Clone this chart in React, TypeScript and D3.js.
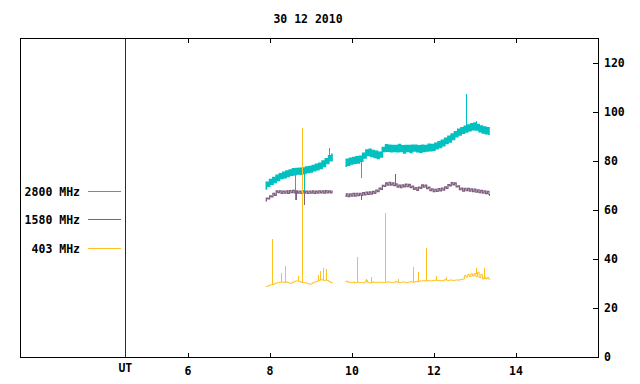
import React from "react";
import * as d3 from "d3";

// ---- data ----
const TITLE = "30 12 2010";
const X_TICKS = [6, 8, 10, 12, 14];
const Y_TICKS = [0, 20, 40, 60, 80, 100, 120];
const UT_POS = 4.47;
const STEP = 0.04;
const SEG1_START = 7.89;
const SEG2_START = 9.84;

const cyan1 = [68.5, 71.2, 69.6, 72.3, 70.4, 73.1, 71.2, 74.0, 72.0, 74.6, 72.8, 75.3, 73.1, 75.8, 73.6, 76.2, 74.1, 76.7, 74.3, 76.8, 74.6, 76.9, 74.5, 77.0, 74.8, 77.4, 75.2, 77.6, 75.4, 78.0, 75.9, 78.5, 76.3, 78.9, 76.9, 79.8, 77.7, 80.8, 78.9, 82.0, 80.0, 82.6];
const cyan2 = [77.8, 80.5, 78.2, 81.0, 78.7, 81.3, 79.0, 81.6, 79.1, 81.8, 79.8, 83.0, 81.1, 84.3, 82.2, 84.6, 81.8, 84.1, 81.3, 83.8, 80.9, 83.4, 81.5, 85.3, 83.8, 86.5, 83.9, 86.3, 83.7, 86.2, 83.8, 86.1, 83.7, 86.6, 83.8, 86.0, 83.2, 86.1, 83.8, 86.2, 83.4, 86.3, 84.0, 86.3, 83.7, 86.0, 83.5, 86.3, 83.8, 86.2, 84.0, 86.7, 84.1, 86.6, 84.3, 87.1, 84.9, 87.7, 85.4, 88.3, 86.1, 89.1, 87.0, 89.9, 87.7, 90.8, 88.7, 91.8, 89.8, 92.8, 90.5, 93.4, 91.2, 94.0, 91.7, 94.5, 92.2, 95.0, 92.6, 95.3, 92.5, 94.7, 91.8, 94.1, 91.3, 93.7, 91.0, 93.4, 90.8];
const purple1 = [63.6, 64.7, 64.4, 65.7, 65.3, 66.7, 65.9, 67.7, 67.0, 67.7, 66.7, 67.6, 66.8, 67.7, 66.7, 67.8, 67.0, 67.9, 66.9, 67.7, 66.8, 67.6, 66.7, 67.7, 66.8, 67.6, 66.7, 67.6, 66.8, 67.7, 66.7, 67.6, 66.8, 67.7, 66.9, 67.7, 66.8, 67.8, 66.9, 67.7, 66.9, 67.6];
const purple2 = [65.5, 66.5, 65.4, 66.5, 65.6, 66.7, 65.6, 66.7, 65.8, 66.7, 65.9, 67.0, 66.1, 67.2, 66.3, 67.3, 66.4, 67.5, 66.7, 68.0, 67.4, 68.8, 68.3, 69.9, 69.5, 70.9, 70.1, 71.2, 70.1, 71.0, 69.8, 70.5, 69.2, 70.0, 69.0, 70.1, 69.3, 70.4, 69.4, 70.3, 69.0, 69.6, 68.3, 69.0, 67.9, 69.2, 68.7, 70.1, 69.2, 70.0, 68.6, 69.2, 67.8, 68.5, 67.4, 68.3, 67.5, 68.6, 67.7, 68.8, 68.0, 69.3, 68.7, 70.2, 69.7, 71.1, 70.2, 70.9, 69.3, 69.7, 68.2, 68.8, 67.6, 68.7, 67.8, 68.7, 67.6, 68.5, 67.4, 68.4, 67.2, 68.1, 67.0, 67.9, 66.8, 67.7, 66.6, 67.5, 66.3];
const yellow1 = [28.7, 28.8, 29.0, 29.4, 29.5, 29.6, 30.0, 30.2, 30.3, 30.4, 30.6, 30.5, 30.4, 30.6, 30.3, 30.0, 30.2, 30.5, 30.9, 31.0, 31.0, 30.8, 30.4, 30.3, 30.3, 30.2, 29.9, 29.7, 29.8, 30.2, 30.5, 30.7, 31.0, 31.3, 31.5, 31.4, 31.2, 31.4, 31.2, 30.8, 30.4, 30.2];
const yellow2 = [30.6, 30.9, 30.4, 30.5, 30.3, 30.6, 30.2, 30.4, 30.5, 30.3, 30.4, 30.2, 30.5, 31.2, 30.4, 30.2, 30.3, 30.6, 30.4, 30.3, 30.5, 30.4, 30.5, 30.3, 30.4, 30.4, 30.6, 30.5, 30.4, 30.3, 30.5, 30.8, 30.5, 30.3, 30.4, 30.6, 30.5, 30.3, 30.4, 30.5, 30.7, 30.6, 30.5, 30.8, 30.6, 30.9, 31.0, 31.0, 31.1, 31.0, 31.2, 31.1, 31.0, 31.1, 31.2, 31.3, 31.1, 31.2, 31.0, 31.1, 31.2, 31.6, 31.3, 31.2, 31.4, 31.3, 31.2, 31.3, 31.4, 31.3, 31.5, 31.6, 31.8, 33.2, 32.6, 33.6, 32.8, 33.9, 33.0, 34.0, 32.8, 34.5, 32.4, 33.6, 31.8, 32.6, 31.8, 32.4, 31.6];

// spikes: [hour, peak value]
const cyanSpikes: [number, number][] = [[8.62, 64], [8.84, 62], [9.44, 85], [10.22, 73], [12.79, 107], [13.03, 96]];
const purpleSpikes: [number, number][] = [[8.64, 64], [8.84, 62], [10.22, 63.8], [11.05, 74.7], [13.35, 65.5]];
const yellowSpikes: [number, number][] = [[8.05, 48.2], [8.27, 34.3], [8.36, 37.1], [8.68, 33], [8.78, 93.5], [9.17, 33.5], [9.23, 35.2], [9.29, 36.2], [9.36, 35.9], [10.11, 40.7], [10.34, 31.7], [10.47, 32.5], [10.81, 58.6], [11.11, 31.8], [11.48, 36.6], [11.6, 34.6], [11.8, 44.4], [12.05, 33.2], [12.29, 32.5], [13.02, 36.4], [13.21, 36.4]];

const SERIES = [
  { name: "2800 MHz", color: "#00c0c0", segs: [cyan1, cyan2], spikes: cyanSpikes, ly: 191, w: 1.7 },
  { name: "1580 MHz", color: "#7f5f7f", segs: [purple1, purple2], spikes: purpleSpikes, ly: 219, w: 1.3 },
  { name: "403 MHz", color: "#ffc020", segs: [yellow1, yellow2], spikes: yellowSpikes, ly: 248, w: 1 },
];
const SEG_STARTS = [SEG1_START, SEG2_START];

const FONT = "'DejaVu Sans Mono', monospace";

export default function App() {
  const L = 20, R = 598, T = 38, B = 357;
  const x = d3.scaleLinear().domain([1.9, 16]).range([L, R]);
  const y = d3.scaleLinear().domain([0, 130]).range([B, T]);
  const line = d3.line<[number, number]>().x(d => x(d[0])).y(d => y(d[1])).curve(d3.curveStep);

  const toPts = (vals: number[], start: number): [number, number][] =>
    vals.map((v, i) => [start + i * STEP, v]);

  const baseAt = (segs: number[][], t: number) => {
    let best = segs[0][0], bd = Infinity;
    segs.forEach((vals, s) => vals.forEach((v, i) => {
      const d = Math.abs(SEG_STARTS[s] + i * STEP - t);
      if (d < bd) { bd = d; best = v; }
    }));
    return best;
  };

  const textStyle = { fontFamily: FONT, fontSize: "11.5px", fontWeight: "bold" as const };

  return (
    <div style={{ position: "fixed", left: 0, top: 0 }}>
      <svg width={640} height={384} style={{ display: "block", background: "#fff" }}>
        <text x={308} y={23} textAnchor="middle" style={textStyle}>{TITLE}</text>

        {SERIES.map(s => (
          <g key={s.name}>
            {s.segs.map((vals, k) => (
              <path key={k} d={line(toPts(vals, SEG_STARTS[k])) || ""} fill="none" stroke={s.color} strokeWidth={s.w} />
            ))}
            {s.spikes.map(([t, v], k) => {
              const xx = Math.round(x(t)) + 0.5;
              return <line key={"sp" + k} x1={xx} x2={xx} y1={y(baseAt(s.segs, t))} y2={y(v)} stroke={s.color} strokeWidth={1} shapeRendering="crispEdges" />;
            })}
          </g>
        ))}

        <line x1={Math.round(x(UT_POS)) + 0.5} x2={Math.round(x(UT_POS)) + 0.5} y1={T} y2={B} stroke="#8b0000" strokeWidth={1} shapeRendering="crispEdges" />

        <rect x={L + 0.5} y={T + 0.5} width={R - L} height={B - T} fill="none" stroke="#000" strokeWidth={1} shapeRendering="crispEdges" />

        {X_TICKS.map(t => {
          const xx = Math.round(x(t)) + 0.5;
          return (
            <g key={t}>
              <line x1={xx} x2={xx} y1={T} y2={T + 5} stroke="#000" shapeRendering="crispEdges" />
              <line x1={xx} x2={xx} y1={B + 1} y2={B - 4} stroke="#000" shapeRendering="crispEdges" />
              <text x={x(t)} y={375} textAnchor="middle" style={textStyle}>{t}</text>
            </g>
          );
        })}
        <text x={x(UT_POS)} y={372} textAnchor="middle" style={textStyle}>UT</text>

        {Y_TICKS.map(v => {
          const yy = Math.round(y(v)) + 0.5;
          return (
            <g key={v}>
              <line x1={R - 5} x2={R} y1={yy} y2={yy} stroke="#000" shapeRendering="crispEdges" />
              <text x={604} y={y(v) + 4} style={textStyle}>{v}</text>
            </g>
          );
        })}

        {SERIES.map(s => (
          <g key={"lg" + s.name}>
            <text x={80} y={s.ly + 5} textAnchor="end" style={textStyle}>{s.name}</text>
            <line x1={88} x2={121} y1={s.ly + 0.5} y2={s.ly + 0.5} stroke={s.color} shapeRendering="crispEdges" />
          </g>
        ))}
      </svg>
    </div>
  );
}
